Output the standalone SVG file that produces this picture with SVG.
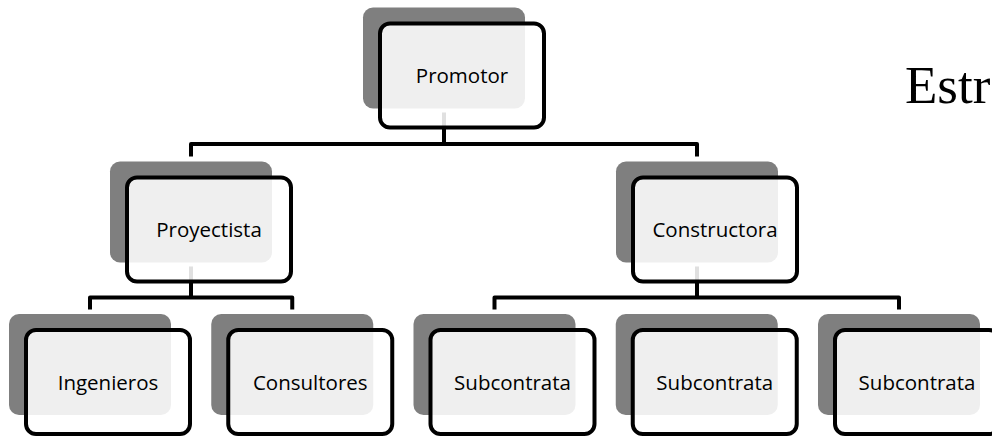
<svg xmlns="http://www.w3.org/2000/svg" width="992" height="436" viewBox="0 0 992 436">
<style>
.sh{fill:#7f7f7f}
.fr{fill:#fff;fill-opacity:0.88;stroke:#000;stroke-width:4}
.lb{font-family:"Open Sans","Liberation Sans",sans-serif;font-size:20.5px;fill:#000;text-anchor:middle}
.cn{fill:none;stroke:#000;stroke-width:4;stroke-linejoin:round}
.ti{font-family:"Liberation Serif",serif;font-size:53px;fill:#000}
</style>
<rect width="992" height="436" fill="#fff"/>
<g id="connectors">
<path class="cn" d="M191 156.5V144H697V156.5M444 112.5V144"/>
<path class="cn" d="M90 309.5V297.5H292.25V309.5M191 266.5V297.5"/>
<path class="cn" d="M494.5 309.5V297.5H899V309.5M697 266.5V297.5"/>
</g>
<g id="promotor">
<rect class="sh" x="363" y="7.5" width="162" height="101" rx="10"/>
<rect class="fr" x="380" y="23.5" width="164" height="104" rx="10"/>
<text class="lb" x="462" y="83">Promotor</text>
</g>
<g id="proyectista">
<rect class="sh" x="110" y="161.5" width="162" height="101" rx="10"/>
<rect class="fr" x="127" y="177.5" width="164" height="104" rx="10"/>
<text class="lb" x="209" y="237">Proyectista</text>
</g>
<g id="constructora">
<rect class="sh" x="616" y="161.5" width="162" height="101" rx="10"/>
<rect class="fr" x="633" y="177.5" width="164" height="104" rx="10"/>
<text class="lb" x="715" y="237">Constructora</text>
</g>
<g id="ingenieros">
<rect class="sh" x="9" y="314" width="162" height="101" rx="10"/>
<rect class="fr" x="26" y="330" width="164" height="104" rx="10"/>
<text class="lb" x="108" y="389.5">Ingenieros</text>
</g>
<g id="consultores">
<rect class="sh" x="211.25" y="314" width="162" height="101" rx="10"/>
<rect class="fr" x="228.25" y="330" width="164" height="104" rx="10"/>
<text class="lb" x="310.25" y="389.5">Consultores</text>
</g>
<g id="subcontrata1">
<rect class="sh" x="413.5" y="314" width="162" height="101" rx="10"/>
<rect class="fr" x="430.5" y="330" width="164" height="104" rx="10"/>
<text class="lb" x="512.5" y="389.5">Subcontrata</text>
</g>
<g id="subcontrata2">
<rect class="sh" x="615.75" y="314" width="162" height="101" rx="10"/>
<rect class="fr" x="632.75" y="330" width="164" height="104" rx="10"/>
<text class="lb" x="714.75" y="389.5">Subcontrata</text>
</g>
<g id="subcontrata3">
<rect class="sh" x="818" y="314" width="162" height="101" rx="10"/>
<rect class="fr" x="835" y="330" width="164" height="104" rx="10"/>
<text class="lb" x="917" y="389.5">Subcontrata</text>
</g>
<text class="ti" x="905" y="102.5">Estr</text>
</svg>
